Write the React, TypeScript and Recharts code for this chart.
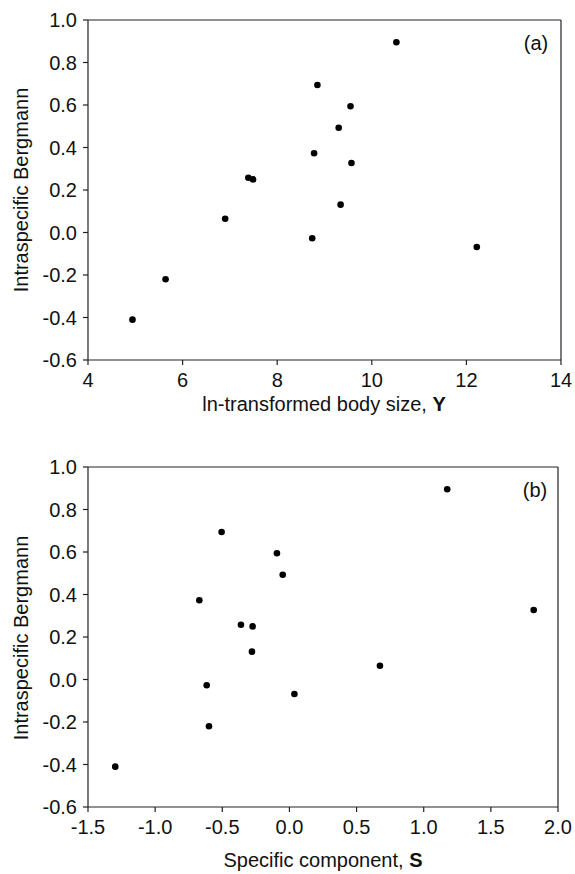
import React from 'react';
import { ScatterChart, Scatter, XAxis, YAxis, ReferenceLine } from 'recharts';

// intraspecific Bergmann coefficient per species
const bergmann = [-0.41, -0.22, 0.065, 0.258, 0.25, 0.895, 0.694, 0.594, 0.493, 0.373, 0.327, 0.131, -0.027, -0.068];
// ln-transformed body size, Y
const bodySize = [4.94, 5.64, 6.9, 7.39, 7.49, 10.52, 8.85, 9.55, 9.3, 8.78, 9.57, 9.34, 8.74, 12.22];
// specific component, S
const specific = [-1.297, -0.599, 0.674, -0.361, -0.274, 1.175, -0.505, -0.093, -0.05, -0.671, 1.819, -0.279, -0.616, 0.037];

const yTicks = [-0.6, -0.4, -0.2, 0.0, 0.2, 0.4, 0.6, 0.8, 1.0];
const sizeTicks = [4, 6, 8, 10, 12, 14];
const specTicks = [-1.5, -1.0, -0.5, 0.0, 0.5, 1.0, 1.5, 2.0];

const topData = bodySize.map((x, i) => ({ x, y: bergmann[i] }));
const bottomData = specific.map((x, i) => ({ x, y: bergmann[i] }));

const FONT = '"Liberation Sans", Arial, sans-serif';
const INK = '#222';
const FS = 20;
const tickStyle = { fill: '#111', fontSize: FS, fontFamily: FONT };

const Dot = (props: any) => <circle cx={props.cx} cy={props.cy} r={3.3} fill="#000" />;

const abs = (s: React.CSSProperties): React.CSSProperties => ({
  position: 'absolute',
  fontFamily: FONT,
  fontSize: FS,
  color: '#111',
  whiteSpace: 'nowrap',
  lineHeight: 1,
  ...s,
});

interface PanelProps {
  data: { x: number; y: number }[];
  xTicks: number[];
  xFmt: (v: number) => string;
  height: number;
  margin: { top: number; right: number; bottom: number; left: number };
}

const Panel: React.FC<PanelProps> = ({ data, xTicks, xFmt, height, margin }) => {
  const xMin = xTicks[0];
  const xMax = xTicks[xTicks.length - 1];
  return (
    <ScatterChart width={575} height={height} margin={margin} style={{ overflow: 'visible' }}>
      <XAxis
        type="number"
        dataKey="x"
        domain={[xMin, xMax]}
        ticks={xTicks}
        interval={0}
        tickFormatter={xFmt}
        tick={tickStyle}
        tickSize={5}
        tickMargin={8}
        stroke={INK}
        strokeWidth={1.2}
        height={60}
        allowDataOverflow
      />
      <YAxis
        type="number"
        dataKey="y"
        domain={[-0.6, 1.0]}
        ticks={yTicks}
        interval={0}
        tickFormatter={(v: number) => v.toFixed(1)}
        tick={tickStyle}
        tickSize={5}
        tickMargin={6}
        stroke={INK}
        strokeWidth={1.2}
        width={88}
        allowDataOverflow
      />
      <ReferenceLine y={1.0} stroke={INK} strokeWidth={1.2} />
      <ReferenceLine x={xMax} stroke={INK} strokeWidth={1.2} />
      <Scatter data={data} shape={Dot} isAnimationActive={false} />
    </ScatterChart>
  );
};

export default function App() {
  return (
    <div style={{ position: 'fixed', left: 0, top: 0, width: 575, height: 874, background: '#fff', overflow: 'hidden' }}>
      <div style={{ position: 'absolute', left: 0, top: 0 }}>
        <Panel
          data={topData}
          xTicks={sizeTicks}
          xFmt={(v) => String(v)}
          height={440}
          margin={{ top: 20, right: 14, bottom: 20, left: 0 }}
        />
      </div>
      <div style={{ position: 'absolute', left: 0, top: 440 }}>
        <Panel
          data={bottomData}
          xTicks={specTicks}
          xFmt={(v) => v.toFixed(1)}
          height={434}
          margin={{ top: 27, right: 17, bottom: 7, left: 0 }}
        />
      </div>

      <div style={abs({ left: 21, top: 190, transform: 'translate(-50%, -50%) rotate(-90deg)' })}>
        Intraspecific Bergmann
      </div>
      <div style={abs({ left: 21, top: 638, transform: 'translate(-50%, -50%) rotate(-90deg)' })}>
        Intraspecific Bergmann
      </div>
      <div style={abs({ left: 324, top: 404, transform: 'translate(-50%, -50%)' })}>
        ln-transformed body size, <b>Y</b>
      </div>
      <div style={abs({ left: 323, top: 860, transform: 'translate(-50%, -50%)' })}>
        Specific component, <b>S</b>
      </div>
      <div style={abs({ left: 536, top: 43, transform: 'translate(-50%, -50%)' })}>(a)</div>
      <div style={abs({ left: 535, top: 490, transform: 'translate(-50%, -50%)' })}>(b)</div>
    </div>
  );
}
